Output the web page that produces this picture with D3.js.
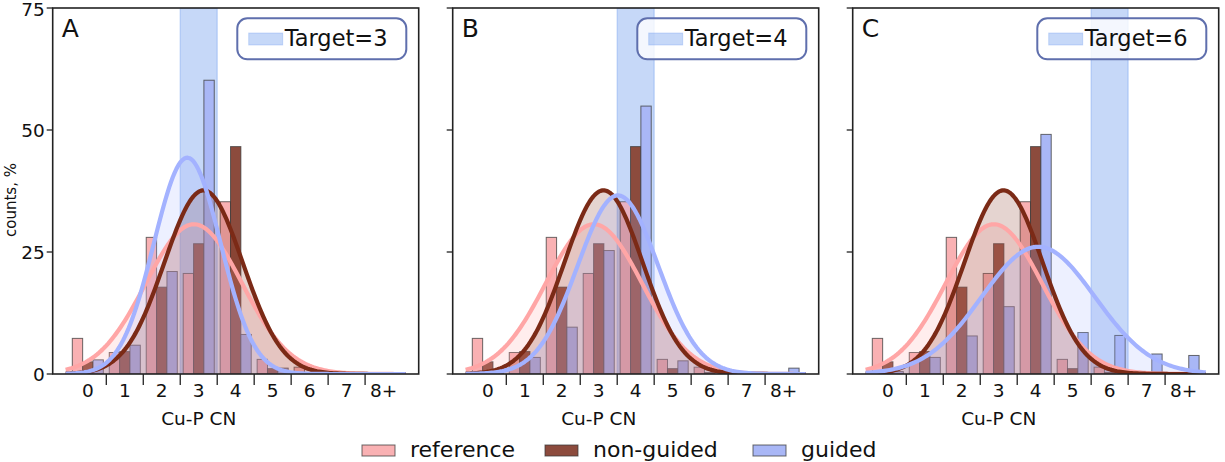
<!DOCTYPE html>
<html>
<head>
<meta charset="utf-8">
<script src="https://cdn.jsdelivr.net/npm/d3@7"></script>
<style>
  body { margin: 0; background: #fff; }
  svg { display: block; font-family: "DejaVu Sans", sans-serif; }
</style>
</head>
<body>
<svg id="chart" width="1225" height="462"></svg>
<script>
// categories (Cu-P coordination number)
const categories = ["0", "1", "2", "3", "4", "5", "6", "7", "8+"];

// bar heights, % of counts
const referenceCounts = [7.3, 4.4, 28.0, 20.6, 35.3, 3.0, 1.4, 0, 0];
const nonGuidedCounts = [2.5, 4.6, 17.8, 26.7, 46.6, 1.1, 0.3, 0, 0];
const guidedCountsA = [2.9, 5.9, 21.0, 60.2, 8.1, 1.2, 0, 0, 0];
const guidedCountsB = [0.3, 3.4, 9.6, 25.3, 54.9, 2.7, 0, 0, 1.2];
const guidedCountsC = [0.5, 3.4, 7.8, 13.8, 49.1, 8.5, 7.9, 4.1, 3.8];

// normal fits: [mean, sd]
const referenceFit = [2.87, 1.30];
const nonGuidedFit = [3.13, 1.06];
const guidedFits = [[2.69, 0.90], [3.52, 1.09], [4.07, 1.53]];

const panelLabels = ["A", "B", "C"];
const targets = [3, 4, 6];
const yTicks = [0, 25, 50, 75];
const seriesNames = ["reference", "non-guided", "guided"];

const barColors = ["#f9b1b3", "#8c4b3d", "#a9b7f6"];
const lineColors = ["#ffa6a6", "#7b2a16", "#a3b2ff"];
const bandColor = "#6495ed";

const svg = d3.select("#chart");
const W = 366, H = 366;

const x = d3.scaleLinear().domain([-0.95, 8.95]).range([0, W]);
const y = d3.scaleLinear().domain([0, 75]).range([H, 0]);

const barW = 0.28;
const gauss = (m, s) => v => 100 / (s * Math.sqrt(2 * Math.PI)) * Math.exp(-((v - m) ** 2) / (2 * s * s));
const curveX = d3.range(-0.6, 8.6001, 0.05);

const guidedSets = [guidedCountsA, guidedCountsB, guidedCountsC];

guidedSets.forEach((guided, p) => {
  const g = svg.append("g").attr("transform", `translate(${52.7 + 400 * p},8)`);

  const clipId = "clip" + p;
  g.append("clipPath").attr("id", clipId)
    .append("rect").attr("width", W).attr("height", H);

  const plot = g.append("g").attr("clip-path", `url(#${clipId})`);

  // target band
  plot.append("rect")
    .attr("x", x(targets[p] - 0.5))
    .attr("width", x(targets[p] + 0.5) - x(targets[p] - 0.5))
    .attr("y", 0).attr("height", H)
    .attr("fill", bandColor).attr("fill-opacity", 0.37)
    .attr("stroke", bandColor).attr("stroke-opacity", 0.3).attr("stroke-width", 1.5);

  // bars
  const sets = [referenceCounts, nonGuidedCounts, guided];
  sets.forEach((vals, k) => {
    plot.append("g").selectAll("rect")
      .data(vals)
      .join("rect")
      .attr("x", (d, i) => x(i + (k - 1.5) * barW))
      .attr("width", x(barW) - x(0))
      .attr("y", d => y(d))
      .attr("height", d => y(0) - y(d))
      .attr("fill", barColors[k])
      .attr("stroke", "#3a3a3a").attr("stroke-opacity", 0.75).attr("stroke-width", 1)
      .style("display", d => d > 0 ? null : "none");
  });

  // fitted curves
  const fits = [referenceFit, nonGuidedFit, guidedFits[p]];
  fits.forEach((f, k) => {
    const fn = gauss(f[0], f[1]);
    const pts = curveX.map(v => [v, fn(v)]);
    plot.append("path")
      .datum(pts)
      .attr("d", d3.area().x(d => x(d[0])).y0(y(0)).y1(d => y(d[1])))
      .attr("fill", lineColors[k]).attr("fill-opacity", 0.2);
  });
  fits.forEach((f, k) => {
    const fn = gauss(f[0], f[1]);
    const pts = curveX.map(v => [v, fn(v)]);
    plot.append("path")
      .datum(pts)
      .attr("d", d3.line().x(d => x(d[0])).y(d => y(d[1])))
      .attr("fill", "none")
      .attr("stroke", lineColors[k]).attr("stroke-width", 4.2)
      .attr("stroke-linejoin", "round");
  });

  // frame
  g.append("rect").attr("width", W).attr("height", H)
    .attr("fill", "none").attr("stroke", "#222").attr("stroke-width", 1.6);

  // x ticks at category boundaries, labels at centres
  const xAxis = g.append("g").attr("transform", `translate(0,${H})`);
  xAxis.selectAll("line")
    .data(d3.range(0.5, 8, 1))
    .join("line")
    .attr("x1", d => x(d)).attr("x2", d => x(d))
    .attr("y1", 0).attr("y2", 11)
    .attr("stroke", "#222").attr("stroke-width", 1.3);
  xAxis.selectAll("text")
    .data(categories)
    .join("text")
    .attr("x", (d, i) => x(i))
    .attr("y", 23)
    .attr("text-anchor", "middle")
    .style("font-size", "18.5px")
    .attr("fill", "#111")
    .text(d => d);

  g.append("text")
    .attr("x", x(3))
    .attr("y", 417)
    .attr("text-anchor", "middle")
    .style("font-size", "18.5px")
    .attr("fill", "#111")
    .text("Cu-P CN");

  // y ticks
  const yAxis = g.append("g");
  yAxis.selectAll("line")
    .data(yTicks)
    .join("line")
    .attr("x1", -6).attr("x2", 0)
    .attr("y1", d => y(d)).attr("y2", d => y(d))
    .attr("stroke", "#222").attr("stroke-width", 1.3);
  if (p === 0) {
    yAxis.selectAll("text")
      .data(yTicks)
      .join("text")
      .attr("x", -8)
      .attr("y", d => y(d))
      .attr("dy", d => d === 75 ? "0.45em" : "0.36em")
      .attr("text-anchor", "end")
      .style("font-size", "18.5px")
      .attr("fill", "#111")
      .text(d => d);
  }

  // panel letter
  g.append("text")
    .attr("x", 9).attr("y", 29)
    .style("font-size", "25px")
    .attr("fill", "#111")
    .text(panelLabels[p]);

  // target legend box
  const lg = g.append("g");
  lg.append("rect")
    .attr("x", 184.6).attr("y", 10.3).attr("width", 169).attr("height", 41)
    .attr("rx", 10)
    .attr("fill", "#fff").attr("fill-opacity", 0.8)
    .attr("stroke", "#5f6fad").attr("stroke-width", 2);
  lg.append("rect")
    .attr("x", 196).attr("y", 25).attr("width", 34).attr("height", 12)
    .attr("fill", bandColor).attr("fill-opacity", 0.37)
    .attr("stroke", bandColor).attr("stroke-opacity", 0.3);
  lg.append("text")
    .attr("x", 232).attr("y", 38)
    .style("font-size", "22.5px")
    .attr("fill", "#111")
    .text("Target=" + targets[p]);
});

// y label
svg.append("text")
  .attr("transform", "translate(16,200) rotate(-90)")
  .attr("text-anchor", "middle")
  .style("font-size", "15px")
  .attr("fill", "#111")
  .text("counts, %");

// bottom legend
const legendX = [362, 545, 753];
const leg = svg.append("g");
seriesNames.forEach((name, k) => {
  leg.append("rect")
    .attr("x", legendX[k]).attr("y", 445).attr("width", 33).attr("height", 11)
    .attr("fill", barColors[k])
    .attr("stroke", "#3a3a3a").attr("stroke-opacity", 0.75);
  leg.append("text")
    .attr("x", legendX[k] + 48).attr("y", 457)
    .style("font-size", "22px")
    .attr("fill", "#111")
    .text(name);
});
</script>
</body>
</html>
